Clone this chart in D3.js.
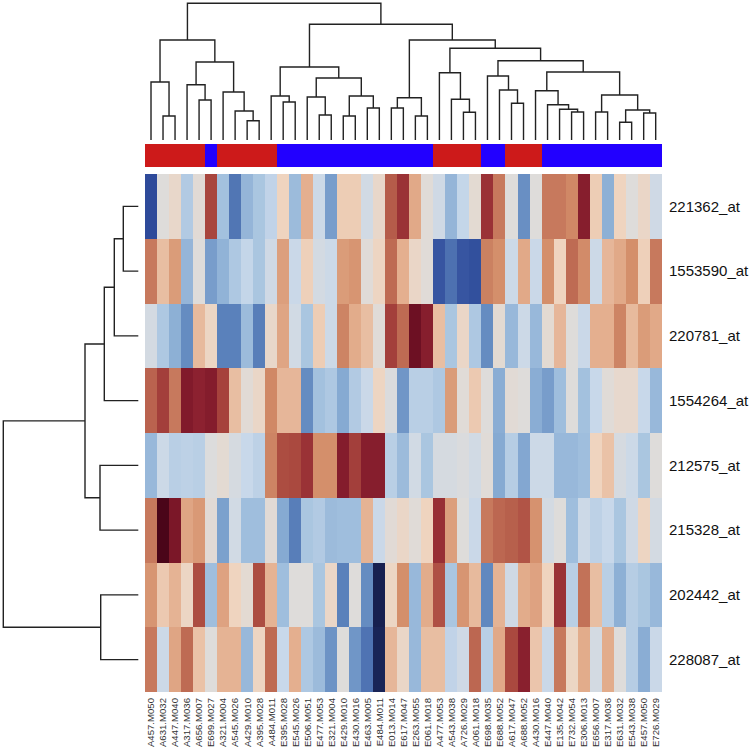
<!DOCTYPE html>
<html><head><meta charset="utf-8">
<script src="https://cdn.jsdelivr.net/npm/d3@7"></script>
<style>body{margin:0;background:#fff}</style>
</head><body><svg id="chart" width="750" height="749"></svg>
<script>
const colLabels = ["A457.M050","A631.M032","A447.M040","A317.M036","A656.M007","E699.M027","A321.M004","A545.M026","A429.M010","A395.M028","A484.M011","E395.M028","E545.M026","E506.M051","E477.M053","E321.M004","E429.M010","E430.M016","E463.M005","E484.M011","E013.M014","E617.M047","E263.M055","E061.M018","A477.M053","A543.M038","A726.M029","A061.M018","E698.M035","E688.M052","A617.M047","A688.M052","A430.M016","E447.M040","E135.M042","E732.M054","E306.M013","E656.M007","E317.M036","E631.M032","E543.M038","E457.M050","E726.M029"];
const rowLabels = ["221362_at","1553590_at","220781_at","1554264_at","212575_at","215328_at","202442_at","228087_at"];
const colGroups = ["A","A","A","A","A","E","A","A","A","A","A","E","E","E","E","E","E","E","E","E","E","E","E","E","A","A","A","A","E","E","A","A","A","E","E","E","E","E","E","E","E","E","E"];
const values = [
 [-3,0,0.3,-0.8,0.1,2.5,-1,-2.2,-1.2,-0.9,-0.6,0.5,-1.1,1.0,-0.4,-1.6,0.6,0.6,-0.3,0.3,2.2,2.8,1.1,0.05,-0.35,-1.2,-0.55,0.15,2.8,1.8,0,-1.8,0,1.8,1.8,1.6,3.2,0.6,-1.3,0.5,0,0.35,-0.35],
 [1.8,0.8,1.3,-1.2,0,-1.6,-1.25,-0.85,-0.55,-0.9,-0.35,1.25,-0.45,0.55,-0.25,-0.4,1.3,1.4,0.05,0.45,2.0,1.0,0.35,0.05,-2.8,-2.3,-2.8,-2.9,1.7,1.5,-0.4,1.1,-0.45,1.5,0.5,2.0,1.55,-0.4,0.9,1.1,1.5,0.55,1.8],
 [-0.25,-0.85,-1.3,-1.85,0.85,0.4,-2.0,-2.0,-1.1,-2.05,0.3,1.15,-0.3,-0.9,0.6,-0.4,1.65,1.05,0.8,0.05,2.6,2.0,3.6,3.2,0.8,-0.9,0.35,-0.85,-1.85,0.15,-1.15,-0.4,-1.15,0.15,0.9,0,-0.45,1.0,1.0,1.65,0.85,1.3,1.1],
 [2.1,2.6,1.8,3.3,3.1,3.25,2.55,0.8,0.1,0.35,1.6,0.9,0.9,-1.85,-1.0,-0.85,-1.4,-0.8,-0.45,0.45,-0.1,-1.7,-0.7,-0.7,-0.85,1.3,0.05,0.65,0,-1.35,0.1,0,-1.35,-1.6,-1.05,0,-1.0,-0.5,0.05,0.25,0.25,-0.5,-1.15],
 [-1.15,-0.4,-0.7,-0.65,-0.7,-0.05,0.15,-0.2,-0.5,-0.65,1.65,2.4,2.45,2.8,1.5,1.5,3.25,2.6,3.2,3.2,-0.7,-1.1,-0.3,-0.9,-0.2,-0.2,-0.1,-0.3,0.05,-1.4,-0.75,-1.45,-0.4,-0.4,-1.15,-1.15,-1.05,0.5,0.75,-0.2,-0.4,-0.9,0],
 [1.8,4.0,3.4,1.15,1.35,0.1,-1.55,-0.3,-1.05,-1.05,0.1,-1.4,-2.05,-0.9,-0.8,-1.1,-1.05,-1.05,0.95,-0.45,0.1,0.35,0.05,0.5,2.85,1.25,0,-0.45,1.8,2.05,2.15,2.3,1.45,-0.25,0,-1.05,-0.4,-0.65,-0.5,-0.9,-0.35,0.45,-0.25],
 [1.4,0.65,0.95,0.4,2.4,-1.05,1.2,0.5,0.15,2.4,0.95,-1.05,0,0,-0.9,0.35,-2.0,0,-1.85,-4.0,0.4,1.5,-1.15,1.05,2.35,-0.9,1.4,0.85,-1.9,0.95,-0.35,1.05,1.2,0.5,2.8,-0.7,1.9,0.8,-0.7,-1.3,-0.75,-0.9,-1.15],
 [1.8,-0.4,1.15,2.0,0.75,0,0.95,0.95,-1.15,0.45,2.0,-0.5,1.0,-0.85,-1.1,-1.75,0,-1.7,-2.25,-3.9,0.9,0.35,-1.15,0.8,0.8,-0.6,-0.35,2.05,-0.7,1.1,2.45,3.15,0.7,-0.45,1.8,0.4,1.05,-0.25,1.05,0,-0.75,-1.35,-0.45]
];
// hclust-style merges: negative = leaf (1-based display order), positive = earlier merge; third = height
const colMerges = [
 [-2,-3,24],[-1,1,58],[-5,-6,40],[-4,3,55.3],[-9,-10,19.3],[-8,5,29],[-7,6,48],[4,7,78],[2,8,100],
 [-12,-13,38],[-11,10,44],[-15,-16,25],[-14,12,43],[-17,-18,24],[-19,-20,32],[14,15,44],[13,16,62],[11,17,73],
 [-21,-22,32],[-23,-24,24],[19,20,42.3],[-27,-28,27.7],[-26,22,40.7],[-25,23,67.3],[-31,-32,36.7],[-30,25,50],
 [-29,26,64],[-36,-37,28],[-35,28,30.7],[-34,29,35.3],[-33,30,49.3],[-38,-39,28],[-40,-41,17.7],[-42,-43,27],
 [33,34,30],[32,35,45],[31,36,68],[27,37,79.3],[24,38,91.7],[21,39,100],[18,40,115.7],[9,41,136.7]
];
const rowMerges = [[-1,-2,15],[-3,1,24],[-4,2,34],[-5,-6,38.3],[3,4,53.3],[-7,-8,37.6],[5,6,135]];
const colorStops = [-4,-3,-2,-1.5,-1,-0.5,0,0.5,1,1.5,2,2.5,3,3.5,4];
const colorRange = ["#172050","#2E4A9A","#5A81BB","#7FA4CF","#A3C1DE","#C8D8EA","#DEDCDA","#EFD4BF","#E4AF8F","#D48F6B","#BE6B53","#A8453D","#912532","#761326","#4A0519"];
const groupColors = {A:"#CD1A1A", E:"#2200FF"};

const svg = d3.select("#chart");
const x = d3.scaleBand().domain(d3.range(colLabels.length)).range([145, 661.7]);
const y = d3.scaleBand().domain(d3.range(rowLabels.length)).range([174, 692]);
const color = d3.scaleLinear().domain(colorStops).range(colorRange).clamp(true);

// heatmap cells
const cells = [];
values.forEach((row, r) => row.forEach((v, c) => cells.push({r, c, v})));
svg.append("g").attr("shape-rendering","crispEdges").selectAll("rect").data(cells).join("rect")
  .attr("x", d => x(d.c)).attr("y", d => y(d.r))
  .attr("width", x.bandwidth()+0.4).attr("height", y.bandwidth()+0.4)
  .attr("fill", d => color(d.v));

// group colour bar
svg.append("g").attr("shape-rendering","crispEdges").selectAll("rect").data(colGroups).join("rect")
  .attr("x", (d,i) => x(i)).attr("y", 144).attr("width", x.bandwidth()+0.4).attr("height", 23)
  .attr("fill", d => groupColors[d]);

// dendrograms
function dendroSegs(merges, leafPos) {
  const pos = [], hgt = [], segs = [];
  const gp = i => i < 0 ? leafPos(-i-1) : pos[i-1];
  const gh = i => i < 0 ? 0 : hgt[i-1];
  merges.forEach(([a,b,h], k) => {
    const pa = gp(a), pb = gp(b);
    pos[k] = (pa+pb)/2; hgt[k] = h;
    segs.push([[pa, gh(a)], [pa, h], [pb, h], [pb, gh(b)]]);
  });
  return segs;
}
const colH = d3.scaleLinear().domain([0, d3.max(colMerges, d => d[2])]).range([140, 3.3]);
const rowH = d3.scaleLinear().domain([0, d3.max(rowMerges, d => d[2])]).range([138.3, 3.3]);
const lineTop = d3.line().x(d => d[0]).y(d => colH(d[1]));
const lineLeft = d3.line().x(d => rowH(d[1])).y(d => d[0]);

svg.append("g").selectAll("path").data(dendroSegs(colMerges, i => x(i)+x.bandwidth()/2)).join("path")
  .attr("d", lineTop).attr("fill","none").attr("stroke","#222").attr("stroke-width",1.4);
svg.append("g").selectAll("path").data(dendroSegs(rowMerges, i => y(i)+y.bandwidth()/2)).join("path")
  .attr("d", lineLeft).attr("fill","none").attr("stroke","#222").attr("stroke-width",1.4);

// labels
svg.append("g").selectAll("text").data(colLabels).join("text")
  .attr("transform", (d,i) => `translate(${x(i)+x.bandwidth()/2},698) rotate(-90)`)
  .attr("text-anchor","end").attr("dy","0.35em")
  .style("font-family","'Liberation Sans', Arial, Helvetica, sans-serif").style("font-size","9.6px").attr("fill","#333")
  .text(d => d);
svg.append("g").selectAll("text").data(rowLabels).join("text")
  .attr("x", 669).attr("y", (d,i) => y(i)+y.bandwidth()/2).attr("dy","0.35em")
  .style("font-family","'Liberation Sans', Arial, Helvetica, sans-serif").style("font-size","15px").attr("fill","#111")
  .text(d => d);
</script></body></html>
